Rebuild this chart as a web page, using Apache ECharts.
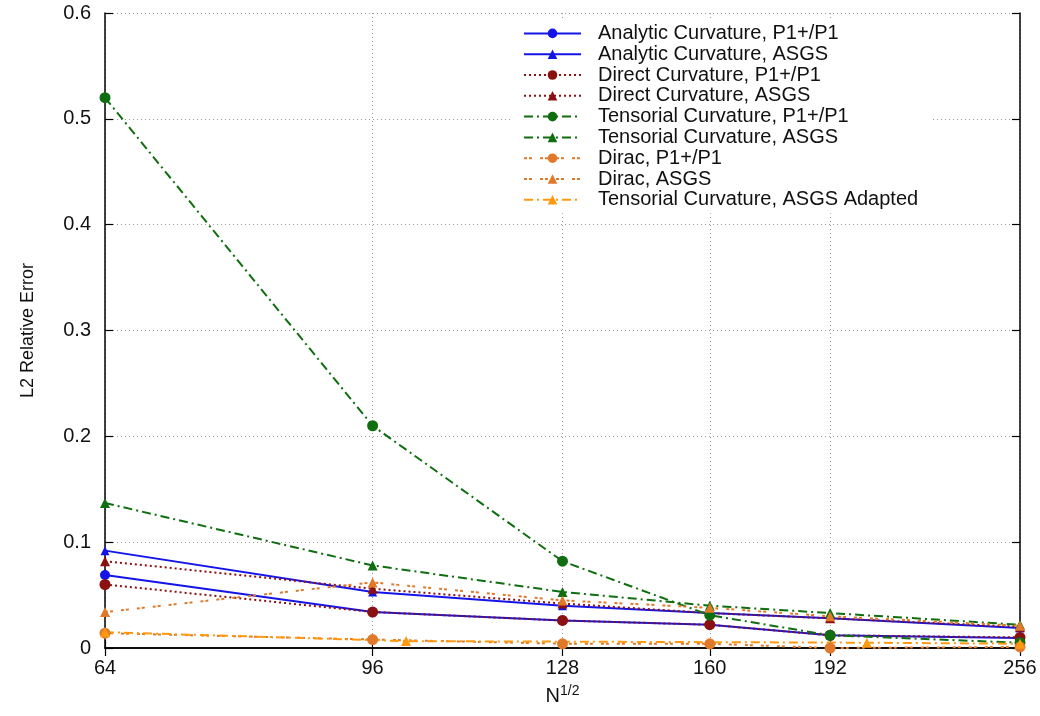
<!DOCTYPE html>
<html>
<head>
<meta charset="utf-8">
<script src="https://cdn.jsdelivr.net/npm/echarts@6/dist/echarts.min.js"></script>
<style>html,body{margin:0;padding:0;background:#fff}#c{width:1040px;height:716px}</style>
</head>
<body>
<div id="c"></div>
<script>
// ---- data ----
const xTicks = [64, 96, 128, 160, 192, 256];
const xValues = [64, 96, 128, 160, 192, 256];
const analyticP1 = [0.069, 0.034, 0.026, 0.022, 0.012, 0.0095];
const analyticASGS = [0.092, 0.053, 0.040, 0.033, 0.028, 0.019];
const directP1 = [0.060, 0.034, 0.026, 0.022, 0.012, 0.010];
const directASGS = [0.082, 0.056, 0.042, 0.033, 0.028, 0.020];
const tensorialP1 = [0.520, 0.210, 0.082, 0.031, 0.012, 0.005];
const tensorialASGS = [0.137, 0.078, 0.053, 0.040, 0.033, 0.022];
const diracP1 = [0.014, 0.008, 0.004, 0.004, 0.000, 0.001];
const diracASGS = [0.034, 0.062, 0.045, 0.038, 0.030, 0.021];
const xAdapted = [64, 101, 203, 256];
const tensorialAdapted = [0.015, 0.0065, 0.005, 0.004];
const seriesNames = [
  'Analytic Curvature, P1+/P1',
  'Analytic Curvature, ASGS',
  'Direct Curvature, P1+/P1',
  'Direct Curvature, ASGS',
  'Tensorial Curvature, P1+/P1',
  'Tensorial Curvature, ASGS',
  'Dirac, P1+/P1',
  'Dirac, ASGS',
  'Tensorial Curvature, ASGS Adapted'
];
const yTicks = [0, 0.1, 0.2, 0.3, 0.4, 0.5, 0.6];

function pairs(xs, ys) { return xs.map((x, i) => [x, ys[i]]); }

const FONT = 'Liberation Sans, Arial, Helvetica, sans-serif';
const BLUE = '#1414e8', RED = '#8b1010', GREEN = '#0f6e0f', DORANGE = '#e07a2a', LORANGE = '#ff9a10';
const DOT = [2, 3], DASHDOT = [9, 4, 2, 4], PAIRDOT = [3, 2, 3, 8];

function mk(name, xs, ys, color, dash, symbol, size) {
  return {
    name: name, type: 'line', data: pairs(xs, ys),
    symbol: symbol, symbolSize: size, showSymbol: true,
    lineStyle: { color: color, width: 2, type: dash },
    itemStyle: { color: color },
    emphasis: { disabled: true }, animation: false
  };
}

const chart = echarts.init(document.getElementById('c'), null, { renderer: 'canvas' });
const axisLine = { show: true, lineStyle: { color: '#000', width: 1.5 } };
const tick = { show: true, inside: true, length: 8, lineStyle: { color: '#000', width: 1.2 } };
chart.setOption({
  animation: false,
  backgroundColor: '#fff',
  grid: { left: 105, right: 20, top: 13, bottom: 68, containLabel: false },
  legend: {
    orient: 'vertical', left: 510, top: 18,
    backgroundColor: '#fff', padding: [5, 14, 3, 13],
    itemWidth: 57, itemHeight: 12, itemGap: 0,
    textStyle: { fontFamily: FONT, fontSize: 20, color: '#111', lineHeight: 20.8, padding: [0, 0, 0, 12] },
    data: seriesNames
  },
  xAxis: [{
    type: 'log', logBase: 2, min: 64, max: 256, position: 'bottom',
    name: 'N{sup|1/2}', nameLocation: 'middle', nameGap: 36,
    nameTextStyle: { fontFamily: FONT, fontSize: 20, color: '#111',
      rich: { sup: { fontFamily: FONT, fontSize: 14, verticalAlign: 'top', padding: [0, 0, 10, 0], color: '#111' } } },
    axisLine: axisLine,
    axisTick: Object.assign({ customValues: xTicks }, tick),
    axisLabel: { customValues: xTicks, fontFamily: FONT, fontSize: 20, color: '#111', margin: 10 },
    splitLine: { show: true, lineStyle: { color: '#999', type: [1, 3], width: 1 } }
  }, {
    type: 'log', logBase: 2, min: 64, max: 256, position: 'top',
    axisLine: axisLine,
    axisTick: Object.assign({ customValues: xTicks }, tick),
    axisLabel: { show: false },
    splitLine: { show: false }
  }],
  yAxis: [{
    type: 'value', min: 0, max: 0.6, interval: 0.1, position: 'left',
    name: 'L2 Relative Error', nameLocation: 'middle', nameGap: 68, nameRotate: 90,
    nameTextStyle: { fontFamily: FONT, fontSize: 18, color: '#111' },
    axisLine: axisLine, axisTick: tick,
    axisLabel: { fontFamily: FONT, fontSize: 20, color: '#111', margin: 14 },
    splitLine: { show: true, lineStyle: { color: '#999', type: [1, 3], width: 1 } }
  }, {
    type: 'value', min: 0, max: 0.6, interval: 0.1, position: 'right',
    axisLine: axisLine, axisTick: tick, axisLabel: { show: false }, splitLine: { show: false }
  }],
  series: [
    mk(seriesNames[0], xValues, analyticP1, BLUE, 'solid', 'circle', 10),
    mk(seriesNames[1], xValues, analyticASGS, BLUE, 'solid', 'triangle', 9),
    mk(seriesNames[2], xValues, directP1, RED, DOT, 'circle', 11),
    mk(seriesNames[3], xValues, directASGS, RED, DOT, 'triangle', 10),
    mk(seriesNames[4], xValues, tensorialP1, GREEN, DASHDOT, 'circle', 11),
    mk(seriesNames[5], xValues, tensorialASGS, GREEN, DASHDOT, 'triangle', 10),
    mk(seriesNames[6], xValues, diracP1, DORANGE, PAIRDOT, 'circle', 11),
    mk(seriesNames[7], xValues, diracASGS, DORANGE, PAIRDOT, 'triangle', 10),
    mk(seriesNames[8], xAdapted, tensorialAdapted, LORANGE, DASHDOT, 'triangle', 10)
  ]
});
</script>
</body>
</html>
